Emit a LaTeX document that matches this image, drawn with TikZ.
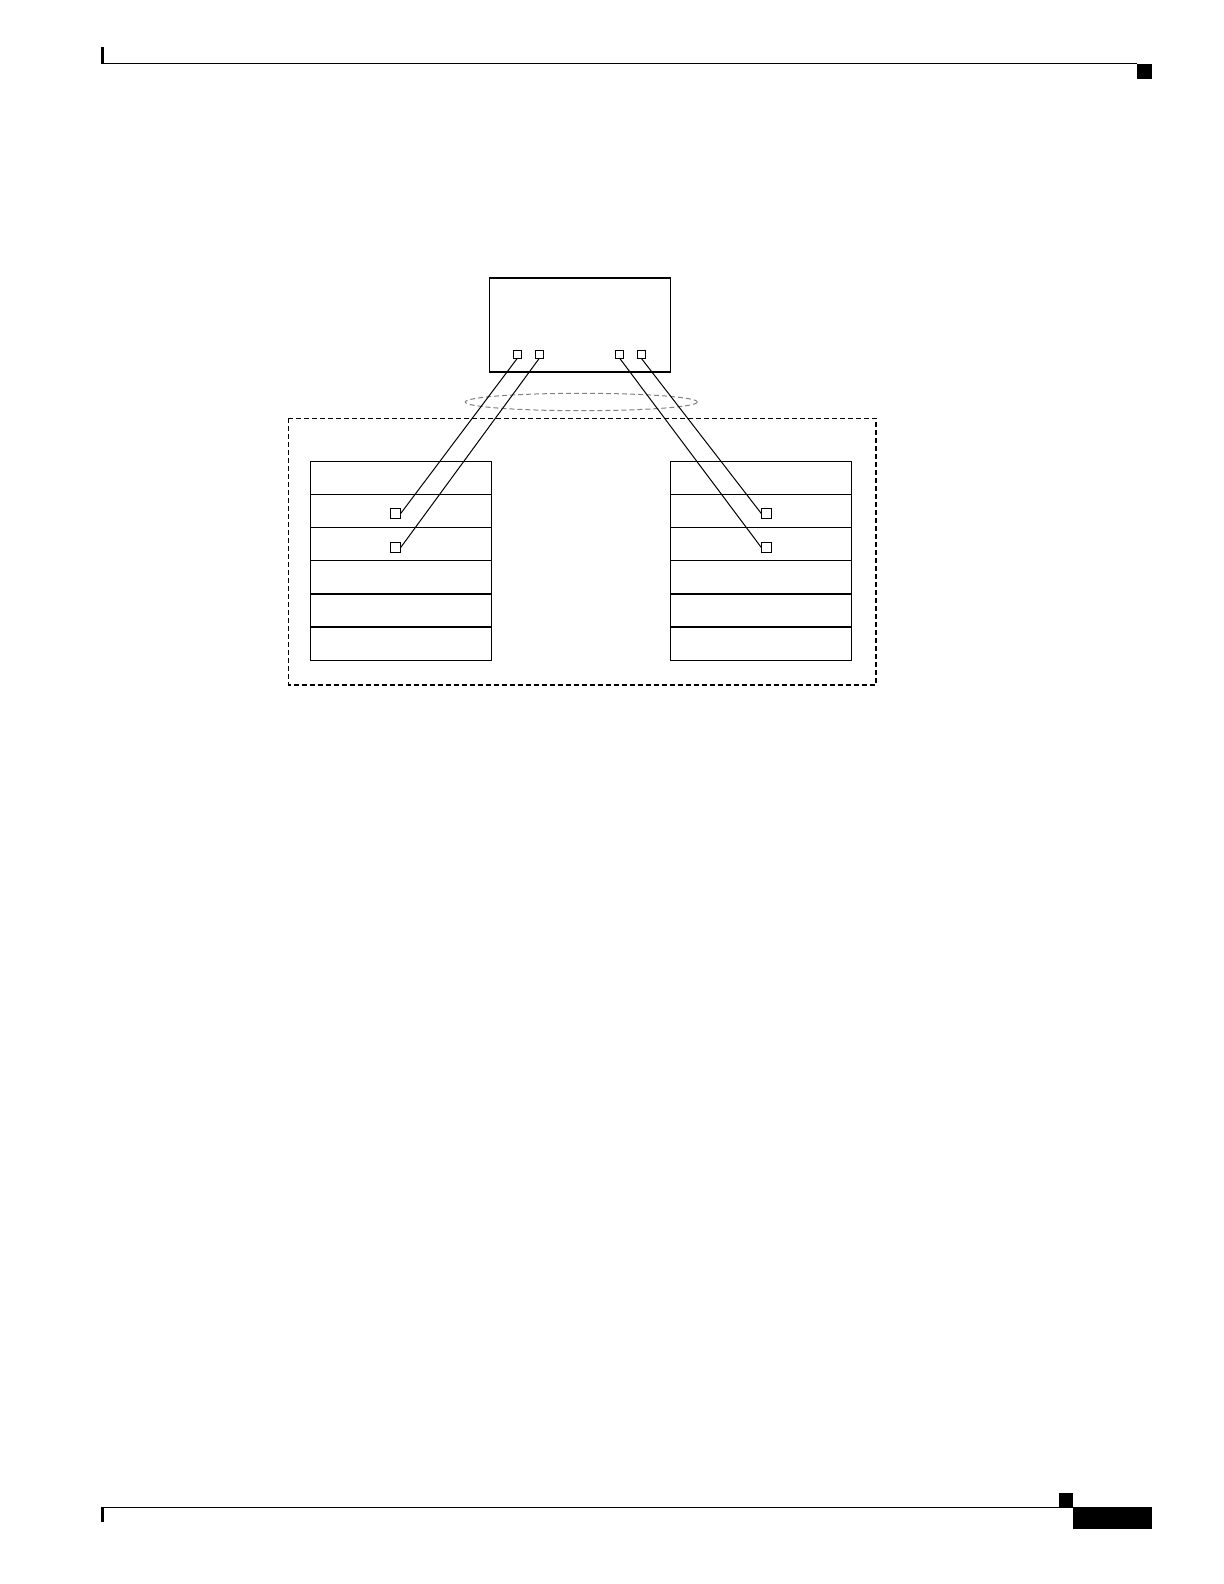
\documentclass[tikz,border=0pt]{standalone}
\usetikzlibrary{positioning}
\tikzset{
  port/.style = {draw, line width=0.5bp, inner sep=0pt, outer sep=0pt, minimum size=4bp},
  slotport/.style = {draw, line width=0.5bp, inner sep=0pt, outer sep=0pt, minimum size=5.2bp},
  slot/.style = {draw, line width=0.6bp, inner sep=0pt, outer sep=0pt, minimum width=90.7bp, minimum height=16.56bp},
  cable/.style = {line width=0.5bp},
}
\begin{document}
\begin{tikzpicture}[x=0.5bp, y=-0.5bp]
                \useasboundingbox (0,0) rectangle (1224,1584);
                % header and footer marks
                \fill (100.7,47) rectangle (104,64);
                \draw[line width=0.75bp] (101,63.6) -- (1137,63.6);
                \fill (1137,63.5) rectangle (1152,78.5);
                \fill (100.7,1507) rectangle (104,1522);
                \draw[line width=0.75bp] (101,1507.4) -- (1059,1507.4);
                \fill (1059,1493) rectangle (1073,1507.8);
                \fill (1073,1507) rectangle (1152,1529);
                % host box and its ports
                \node[draw, line width=0.6bp, inner sep=0pt, minimum width=90.5bp, minimum height=47bp] (host) at (579.6,325) {};
                \node[port] (hp1) at (517.3,354.3) {};
                \node[port] (hp2) at (539.3,354.3) {};
                \node[port] (hp3) at (619.7,354.3) {};
                \node[port] (hp4) at (641.3,354.3) {};
                % bundle and enclosure
                \draw[gray, dashed, dash pattern=on 2.5bp off 1.5bp, line width=0.5bp] (581.3,402) ellipse [x radius=116, y radius=8.7];
                \draw[dashed, dash pattern=on 2.5bp off 1.5bp, line width=0.6bp] (288.3,418.3) rectangle (876,685);
                % left and right stacks
                \node[slot] (L1) at (400.8,478) {};
                \node[slot] (R1) at (761,478) {};
                \foreach \i [count=\j from 2] in {1,...,5} {
                  \node[slot, below=0pt of L\i] (L\j) {};
                  \node[slot, below=0pt of R\i] (R\j) {};
                }
                \node[slotport] (lp1) at (395.5,513.5) {};
                \node[slotport] (lp2) at (395.5,547.5) {};
                \node[slotport] (rp1) at (766.5,513.5) {};
                \node[slotport] (rp2) at (766.5,547.5) {};
                % cables
                \draw[cable] (hp1.south) -- (lp1.east);
                \draw[cable] (hp2.south) -- (lp2.east);
                \draw[cable] (hp3.south) -- (rp2.west);
                \draw[cable] (hp4.south) -- (rp1.west);

            \end{tikzpicture}
\end{document}
